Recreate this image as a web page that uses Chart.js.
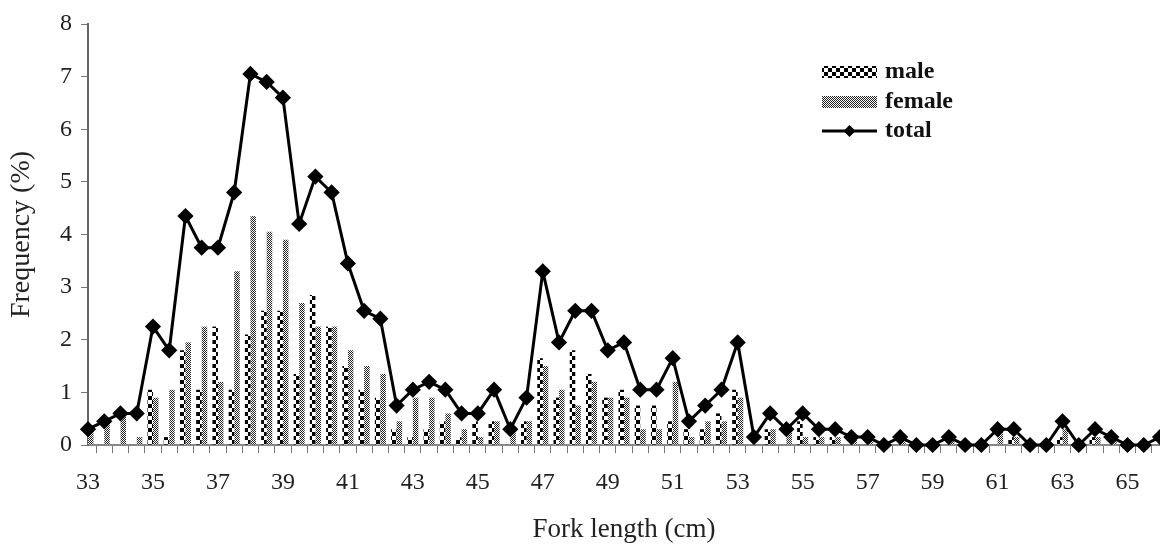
<!DOCTYPE html>
<html>
<head>
<meta charset="utf-8">
<script src="https://cdn.jsdelivr.net/npm/chart.js@4.4.0/dist/chart.umd.min.js"></script>
<style>
    html, body { margin: 0; padding: 0; background: #fff; overflow: hidden; }
    #wrap { width: 1160px; height: 546px; }
    #myChart { display: block; }
</style>
</head>
<body>
<div id="wrap"><canvas id="myChart" width="1160" height="546"></canvas></div>
<script>
// fork length classes (cm)
var lengths = ['33', '33.5', '34', '34.5', '35', '35.5', '36', '36.5', '37', '37.5',
    '38', '38.5', '39', '39.5', '40', '40.5', '41', '41.5', '42', '42.5',
    '43', '43.5', '44', '44.5', '45', '45.5', '46', '46.5', '47', '47.5',
    '48', '48.5', '49', '49.5', '50', '50.5', '51', '51.5', '52', '52.5',
    '53', '53.5', '54', '54.5', '55', '55.5', '56', '56.5', '57', '57.5',
    '58', '58.5', '59', '59.5', '60', '60.5', '61', '61.5', '62', '62.5',
    '63', '63.5', '64', '64.5', '65', '65.5', '66'];

var maleData = [0, 0, 0, 0, 1.05, 0.15, 1.8, 1.05, 2.25, 1.05,
    2.1, 2.55, 2.55, 1.35, 2.85, 2.25, 1.5, 1.05, 0.9, 0.3,
    0.15, 0.3, 0.45, 0.15, 0.45, 0.45, 0, 0.45, 1.65, 0.9,
    1.8, 1.35, 0.9, 1.05, 0.75, 0.75, 0.45, 0.3, 0.3, 0.6,
    1.05, 0, 0.3, 0, 0.45, 0.15, 0.15, 0, 0, 0,
    0, 0, 0, 0, 0, 0, 0, 0.15, 0, 0,
    0.15, 0, 0.15, 0, 0, 0, 0];

var femaleData = [0.3, 0.45, 0.6, 0.15, 0.9, 1.05, 1.95, 2.25, 1.2, 3.3,
    4.35, 4.05, 3.9, 2.7, 2.25, 2.25, 1.8, 1.5, 1.35, 0.45,
    0.9, 0.9, 0.6, 0.3, 0.15, 0.45, 0.3, 0.45, 1.5, 1.05,
    0.75, 1.2, 0.9, 0.9, 0.3, 0.3, 1.2, 0.15, 0.45, 0.45,
    0.9, 0, 0.3, 0.3, 0.15, 0.15, 0.15, 0.15, 0.15, 0,
    0.15, 0, 0, 0.15, 0, 0, 0.3, 0.15, 0, 0,
    0.3, 0, 0.15, 0.15, 0, 0, 0.15];

var totalData = [0.3, 0.45, 0.6, 0.6, 2.25, 1.8, 4.35, 3.75, 3.75, 4.8,
    7.05, 6.9, 6.6, 4.2, 5.1, 4.8, 3.45, 2.55, 2.4, 0.75,
    1.05, 1.2, 1.05, 0.6, 0.6, 1.05, 0.3, 0.9, 3.3, 1.95,
    2.55, 2.55, 1.8, 1.95, 1.05, 1.05, 1.65, 0.45, 0.75, 1.05,
    1.95, 0.15, 0.6, 0.3, 0.6, 0.3, 0.3, 0.15, 0.15, 0,
    0.15, 0, 0, 0.15, 0, 0, 0.3, 0.3, 0, 0,
    0.45, 0, 0.3, 0.15, 0, 0, 0.15];

var yTicks = [0, 1, 2, 3, 4, 5, 6, 7, 8];

var serif = '"Liberation Serif", "Times New Roman", serif';

// fill patterns like the old excel hatches
function makePattern(size, draw) {
    var c = document.createElement('canvas');
    c.width = size[0];
    c.height = size[1];
    var g = c.getContext('2d');
    g.fillStyle = '#fff';
    g.fillRect(0, 0, c.width, c.height);
    draw(g);
    return document.getElementById('myChart').getContext('2d').createPattern(c, 'repeat');
}

var malePattern = makePattern([8, 8], function (g) {
    g.fillStyle = '#000';
    g.fillRect(0, 0, 4, 4);
    g.fillRect(4, 4, 4, 4);
});

var femalePattern = makePattern([2, 2], function (g) {
    g.fillStyle = '#222';
    g.fillRect(0, 0, 1, 1);
    g.fillRect(1, 1, 1, 1);
});

// legend inside the plot, top right
var legendInPlot = {
    id: 'legendInPlot',
    afterDraw: function (chart) {
        var ctx = chart.ctx;
        var x = 822;
        ctx.save();
        ctx.fillStyle = malePattern;
        ctx.fillRect(x, 66, 55, 12);
        ctx.fillStyle = femalePattern;
        ctx.fillRect(x, 96, 55, 12);

        ctx.strokeStyle = '#000';
        ctx.lineWidth = 3;
        ctx.beginPath();
        ctx.moveTo(x, 131);
        ctx.lineTo(x + 55, 131);
        ctx.stroke();
        ctx.fillStyle = '#000';
        ctx.beginPath();
        ctx.moveTo(x + 27.5, 125);
        ctx.lineTo(x + 33.5, 131);
        ctx.lineTo(x + 27.5, 137);
        ctx.lineTo(x + 21.5, 131);
        ctx.closePath();
        ctx.fill();

        ctx.font = 'bold 24px ' + serif;
        ctx.textBaseline = 'middle';
        ctx.fillStyle = '#111';
        ctx.fillText('male', x + 63, 72);
        ctx.fillText('female', x + 63, 102);
        ctx.fillText('total', x + 63, 131);
        ctx.restore();
    }
};

var ctx = document.getElementById('myChart').getContext('2d');
var myChart = new Chart(ctx, {
    type: 'bar',
    data: {
        labels: lengths,
        datasets: [{
            type: 'line',
            label: 'total',
            data: totalData,
            borderColor: '#000',
            backgroundColor: '#000',
            borderWidth: 3,
            pointStyle: 'rectRot',
            pointRadius: 6,
            tension: 0,
            order: 0,
            clip: false
        }, {
            label: 'male',
            data: maleData,
            backgroundColor: malePattern,
            borderWidth: 0,
            categoryPercentage: 0.68,
            barPercentage: 1,
            order: 1
        }, {
            label: 'female',
            data: femaleData,
            backgroundColor: femalePattern,
            borderWidth: 0,
            categoryPercentage: 0.68,
            barPercentage: 1,
            order: 1
        }]
    },
    options: {
        responsive: false,
        animation: false,
        devicePixelRatio: 1,
        layout: {
            autoPadding: false,
            padding: { top: 24, right: 0, left: 0, bottom: 0 }
        },
        plugins: {
            legend: { display: false },
            tooltip: { enabled: false }
        },
        scales: {
            x: {
                offset: false,
                grid: {
                    drawOnChartArea: false,
                    tickLength: 8,
                    tickColor: '#777',
                    tickWidth: 1
                },
                border: { color: '#888', width: 2 },
                ticks: {
                    autoSkip: false,
                    maxRotation: 0,
                    padding: 15,
                    color: '#222',
                    font: { family: serif, size: 24 },
                    callback: function (val, i) {
                        var v = Number(lengths[i]);
                        return (v % 2 === 1) ? lengths[i] : '';
                    }
                },
                title: {
                    display: true,
                    text: 'Fork length (cm)',
                    color: '#222',
                    font: { family: serif, size: 27 },
                    padding: { top: 0, bottom: 0 }
                },
                afterFit: function (scale) {
                    scale.height = 101;
                    scale.paddingLeft = 0;
                    scale.paddingRight = 0;
                }
            },
            y: {
                min: 0,
                max: 8,
                grid: {
                    drawOnChartArea: false,
                    tickLength: 7,
                    tickColor: '#777',
                    tickWidth: 1
                },
                border: { color: '#666', width: 2 },
                afterBuildTicks: function (scale) {
                    scale.ticks = yTicks.map(function (v) { return { value: v }; });
                },
                ticks: {
                    padding: 9,
                    color: '#222',
                    font: { family: serif, size: 24 }
                },
                title: {
                    display: true,
                    text: 'Frequency (%)',
                    color: '#222',
                    font: { family: serif, size: 28 },
                    padding: { top: 5, bottom: 0 }
                },
                afterFit: function (scale) {
                    scale.width = 88;
                }
            }
        }
    },
    plugins: [legendInPlot]
});
</script>
</body>
</html>
